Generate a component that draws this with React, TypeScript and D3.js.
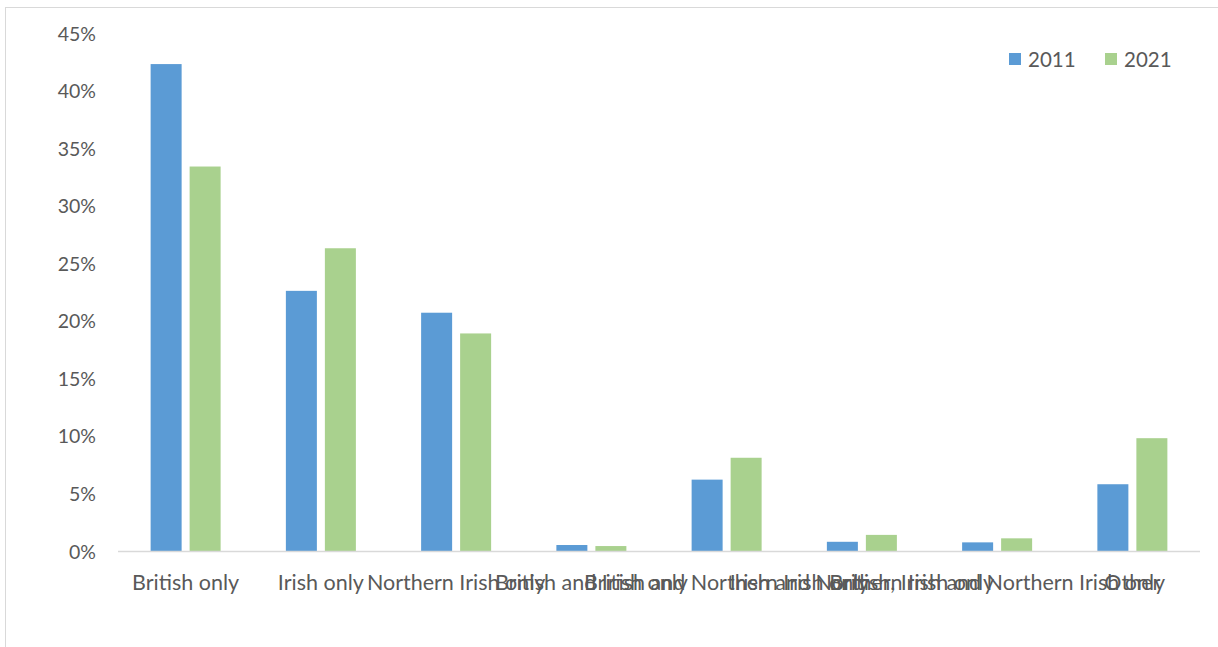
import React from "react";
import * as d3 from "d3";

const categories = [
  "British only",
  "Irish only",
  "Northern Irish only",
  "British and Irish only",
  "British and Northern Irish only",
  "Irish and Northern Irish only",
  "British, Irish and Northern Irish only",
  "Other",
];
const series2011 = [42.3, 22.6, 20.7, 0.52, 6.2, 0.8, 0.75, 5.8];
const series2021 = [33.4, 26.3, 18.9, 0.43, 8.1, 1.4, 1.1, 9.8];
const seriesNames = ["2011", "2021"];
const seriesColors = ["#5B9BD5", "#A9D18E"];
const yTicks = [0, 5, 10, 15, 20, 25, 30, 35, 40, 45];

const W = 1218;
const H = 647;
const FONT = "Lato, 'Open Sans', sans-serif";

export default function App() {
  const x0 = d3.scaleBand<string>().domain(categories).range([118, 1200]);
  const y = d3.scaleLinear().domain([0, 45]).range([551, 33]);
  const barW = 31;
  const gap = 8;
  const data = [series2011, series2021];
  return (
    <svg
      width={W}
      height={H}
      style={{ position: "absolute", left: 0, top: 0 }}
      fontFamily={FONT}
    >
      <rect x={0} y={0} width={W} height={H} fill="#fff" />
      <rect x={5.5} y={7.5} width={W + 10} height={H + 10} fill="none" stroke="#D9D9D9" />
      {yTicks.map((t) => (
        <text
          key={t}
          x={96}
          y={y(t)}
          textAnchor="end"
          dominantBaseline="central"
          fontSize={19.5}
          fill="#595959"
        >
          {t}%
        </text>
      ))}
      {categories.map((c, i) => {
        const cx = (x0(c) as number) + x0.bandwidth() / 2;
        return (
          <g key={c}>
            {data.map((s, k) => {
              const bx = k === 0 ? cx - gap / 2 - barW : cx + gap / 2;
              return (
                <rect
                  key={k}
                  x={bx}
                  y={y(s[i])}
                  width={barW}
                  height={y(0) - y(s[i])}
                  fill={seriesColors[k]}
                />
              );
            })}
            <text
              x={cx}
              y={582}
              textAnchor="middle"
              dominantBaseline="central"
              fontSize={21.5}
              fill="#595959"
            >
              {c}
            </text>
          </g>
        );
      })}
      <line x1={118} x2={1200} y1={551.5} y2={551.5} stroke="#D9D9D9" strokeWidth={1.5} />
      {seriesNames.map((n, k) => (
        <g key={n} transform={`translate(${1009 + k * 96},59)`}>
          <rect x={0} y={-6} width={12} height={12} fill={seriesColors[k]} />
          <text x={19} y={0} dominantBaseline="central" fontSize={20.5} fill="#595959">
            {n}
          </text>
        </g>
      ))}
    </svg>
  );
}
